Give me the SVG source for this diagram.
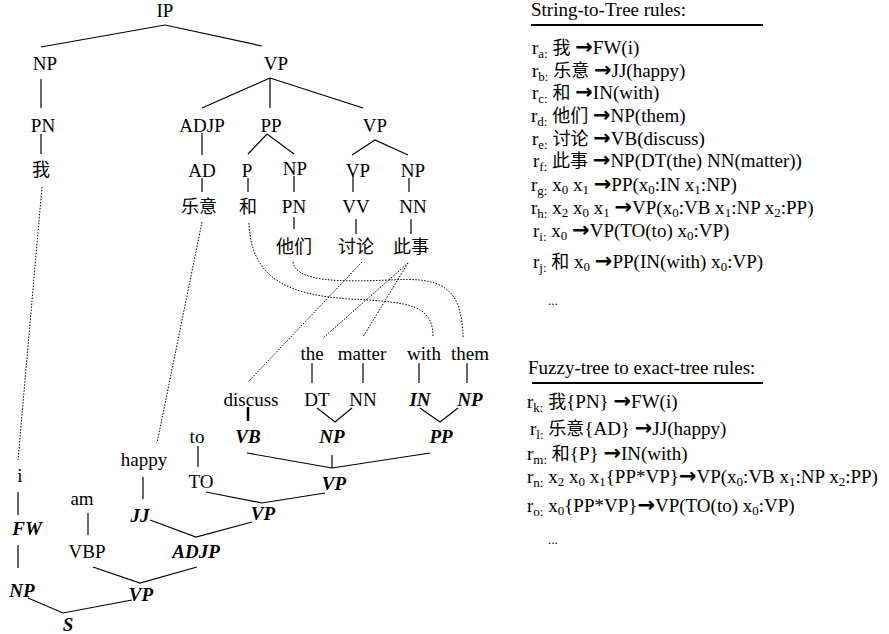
<svg xmlns="http://www.w3.org/2000/svg" width="889" height="634" viewBox="0 0 889 634">
<style>
text{font-family:"Liberation Serif","Noto Sans CJK SC",serif;font-size:19px;fill:#000}
.t{text-anchor:middle}
.b{font-weight:bold;font-style:italic}
.cj{font-family:"Noto Sans CJK SC",sans-serif;font-size:18px}
.s{font-size:13px}
.ar{font-family:"DejaVu Sans",sans-serif;font-weight:bold;font-size:21px}
.ln line,.ln polyline{stroke:#000;stroke-width:1.2;fill:none}
.dt{stroke:#000;stroke-width:1;fill:none;stroke-dasharray:1.5 1.5}
</style>
<rect width="889" height="634" fill="#fff"/>
<g id="connectors">
<g class="ln">
<line x1="165" y1="25" x2="41" y2="47"/>
<line x1="165" y1="25" x2="262" y2="46"/>
<line x1="41" y1="79" x2="41" y2="108"/>
<line x1="41" y1="134" x2="41" y2="154"/>
<line x1="270" y1="78" x2="202" y2="108"/>
<line x1="270" y1="78" x2="270" y2="108"/>
<line x1="270" y1="78" x2="363" y2="108"/>
<line x1="202" y1="133" x2="202" y2="155"/>
<line x1="202" y1="178" x2="202" y2="192"/>
<polyline points="248,154 267,134 294,154"/>
<line x1="248" y1="178" x2="248" y2="192"/>
<line x1="294" y1="176" x2="294" y2="192"/>
<line x1="294" y1="217" x2="294" y2="229"/>
<polyline points="352,155 375,140 408,155"/>
<line x1="353" y1="173" x2="353" y2="192"/>
<line x1="409" y1="178" x2="409" y2="192"/>
<line x1="356" y1="219" x2="356" y2="234"/>
<line x1="411" y1="219" x2="411" y2="234"/>
<line x1="312" y1="363" x2="312" y2="383"/>
<line x1="363" y1="363" x2="363" y2="383"/>
<line x1="419" y1="363" x2="419" y2="383"/>
<line x1="467" y1="363" x2="467" y2="383"/>
<polyline points="317,408 335,422 352,408"/>
<polyline points="420,408 440,422 458,408"/>
<line x1="248" y1="407" x2="248" y2="421" style="stroke-width:2.5"/>
<polyline points="247,453 332,468 430,453"/>
<line x1="332" y1="455" x2="332" y2="468"/>
<line x1="198" y1="446" x2="198" y2="467"/>
<polyline points="206,492 262,503 325,493"/>
<line x1="143" y1="477" x2="143" y2="499"/>
<polyline points="150,520 196,537 252,522"/>
<line x1="88" y1="513" x2="88" y2="535"/>
<polyline points="93,567 140,583 197,567"/>
<line x1="18" y1="492" x2="18" y2="515"/>
<line x1="18" y1="545" x2="18" y2="568"/>
<polyline points="28,598 63,613 132,600"/>
</g>
<line class="dt" x1="42" y1="187" x2="18" y2="460"/>
<line class="dt" x1="202" y1="222" x2="157" y2="443"/>
<line class="dt" x1="362" y1="262" x2="248" y2="382"/>
<line class="dt" x1="408" y1="263" x2="323" y2="338"/>
<line class="dt" x1="408" y1="263" x2="363" y2="337"/>
<path class="dt" d="M249,223 C251,280 290,295 350,299 C410,302 433,305 433,337"/>
<path class="dt" d="M293,262 C296,282 340,282 390,280 C440,277 462,285 463,338"/>
</g>
<g id="n-IP"><text class="t" x="165" y="17">IP</text></g>
<g id="n-NP1"><text class="t" x="45" y="70">NP</text></g>
<g id="n-VP1"><text class="t" x="276" y="70">VP</text></g>
<g id="n-PN1"><text class="t" x="43" y="132">PN</text></g>
<g id="n-wo"><text class="t cj" x="41" y="176">我</text></g>
<g id="n-ADJP1"><text class="t" x="202" y="132">ADJP</text></g>
<g id="n-PP1"><text class="t" x="271" y="132">PP</text></g>
<g id="n-VP2"><text class="t" x="375" y="132">VP</text></g>
<g id="n-AD"><text class="t" x="202" y="177">AD</text></g>
<g id="n-P"><text class="t" x="247" y="177">P</text></g>
<g id="n-NP2"><text class="t" x="295" y="175">NP</text></g>
<g id="n-VP3"><text class="t" x="358" y="177">VP</text></g>
<g id="n-NP3"><text class="t" x="413" y="177">NP</text></g>
<g id="n-leyi"><text class="t cj" x="199" y="213">乐意</text></g>
<g id="n-he"><text class="t cj" x="248" y="213">和</text></g>
<g id="n-PN2"><text class="t" x="294" y="213">PN</text></g>
<g id="n-VV"><text class="t" x="356" y="213">VV</text></g>
<g id="n-NN1"><text class="t" x="413" y="213">NN</text></g>
<g id="n-tamen"><text class="t cj" x="294" y="253">他们</text></g>
<g id="n-taolun"><text class="t cj" x="356" y="253">讨论</text></g>
<g id="n-cishi"><text class="t cj" x="411" y="253">此事</text></g>
<g id="n-the"><text class="t" x="312" y="360">the</text></g>
<g id="n-matter"><text class="t" x="362" y="360">matter</text></g>
<g id="n-with"><text class="t" x="424" y="360">with</text></g>
<g id="n-them"><text class="t" x="470" y="360">them</text></g>
<g id="n-discuss"><text class="t" x="251" y="406">discuss</text></g>
<g id="n-DT"><text class="t" x="317" y="406">DT</text></g>
<g id="n-NN2"><text class="t" x="363" y="406">NN</text></g>
<g id="n-IN"><text class="t b" x="420" y="406">IN</text></g>
<g id="n-NP4"><text class="t b" x="470" y="406">NP</text></g>
<g id="n-to"><text class="t" x="197" y="443">to</text></g>
<g id="n-VB"><text class="t b" x="248" y="443">VB</text></g>
<g id="n-NP5"><text class="t b" x="332" y="443">NP</text></g>
<g id="n-PP2"><text class="t b" x="441" y="443">PP</text></g>
<g id="n-happy"><text class="t" x="144" y="466">happy</text></g>
<g id="n-TO"><text class="t" x="201" y="488">TO</text></g>
<g id="n-VP4"><text class="t b" x="334" y="490">VP</text></g>
<g id="n-i"><text class="t" x="20" y="482">i</text></g>
<g id="n-am"><text class="t" x="82" y="505">am</text></g>
<g id="n-JJ"><text class="t b" x="140" y="522">JJ</text></g>
<g id="n-VP5"><text class="t b" x="263" y="520">VP</text></g>
<g id="n-FW"><text class="t b" x="27" y="535">FW</text></g>
<g id="n-VBP"><text class="t" x="87" y="558">VBP</text></g>
<g id="n-ADJP2"><text class="t b" x="196" y="558">ADJP</text></g>
<g id="n-NP6"><text class="t b" x="22" y="597">NP</text></g>
<g id="n-VP6"><text class="t b" x="141" y="601">VP</text></g>
<g id="n-S"><text class="t b" x="68" y="631">S</text></g>
<g id="rules1">
<text x="531" y="16">String-to-Tree rules:</text>
<line x1="531" y1="25" x2="763" y2="25" stroke="#000" stroke-width="2"/>
<text x="532" y="54">r<tspan class="s" dy="4">a:</tspan><tspan dy="-4"> </tspan><tspan class="cj">我</tspan> <tspan class="ar">→</tspan>FW(i)</text>
<text x="532" y="77">r<tspan class="s" dy="4">b:</tspan><tspan dy="-4"> </tspan><tspan class="cj">乐意</tspan> <tspan class="ar">→</tspan>JJ(happy)</text>
<text x="532" y="99">r<tspan class="s" dy="4">c:</tspan><tspan dy="-4"> </tspan><tspan class="cj">和</tspan> <tspan class="ar">→</tspan>IN(with)</text>
<text x="531" y="122">r<tspan class="s" dy="4">d:</tspan><tspan dy="-4"> </tspan><tspan class="cj">他们</tspan> <tspan class="ar">→</tspan>NP(them)</text>
<text x="532" y="145">r<tspan class="s" dy="4">e:</tspan><tspan dy="-4"> </tspan><tspan class="cj">讨论</tspan> <tspan class="ar">→</tspan>VB(discuss)</text>
<text x="533" y="167">r<tspan class="s" dy="4">f:</tspan><tspan dy="-4"> </tspan><tspan class="cj">此事</tspan> <tspan class="ar">→</tspan>NP(DT(the) NN(matter))</text>
<text x="531" y="191">r<tspan class="s" dy="4">g:</tspan><tspan dy="-4"> x</tspan><tspan class="s" dy="3">0</tspan><tspan dy="-3"> x</tspan><tspan class="s" dy="3">1</tspan><tspan dy="-3"> </tspan><tspan class="ar">→</tspan>PP(x<tspan class="s" dy="3">0</tspan><tspan dy="-3">:IN x</tspan><tspan class="s" dy="3">1</tspan><tspan dy="-3">:NP)</tspan></text>
<text x="531" y="214">r<tspan class="s" dy="4">h:</tspan><tspan dy="-4"> x</tspan><tspan class="s" dy="3">2</tspan><tspan dy="-3"> x</tspan><tspan class="s" dy="3">0</tspan><tspan dy="-3"> x</tspan><tspan class="s" dy="3">1</tspan><tspan dy="-3"> </tspan><tspan class="ar">→</tspan>VP(x<tspan class="s" dy="3">0</tspan><tspan dy="-3">:VB x</tspan><tspan class="s" dy="3">1</tspan><tspan dy="-3">:NP x</tspan><tspan class="s" dy="3">2</tspan><tspan dy="-3">:PP)</tspan></text>
<text x="533" y="237">r<tspan class="s" dy="4">i:</tspan><tspan dy="-4"> x</tspan><tspan class="s" dy="3">0</tspan><tspan dy="-3"> </tspan><tspan class="ar">→</tspan>VP(TO(to) x<tspan class="s" dy="3">0</tspan><tspan dy="-3">:VP)</tspan></text>
<text x="533" y="268">r<tspan class="s" dy="4">j:</tspan><tspan dy="-4"> </tspan><tspan class="cj">和</tspan> x<tspan class="s" dy="3">0</tspan><tspan dy="-3"> </tspan><tspan class="ar">→</tspan>PP(IN(with) x<tspan class="s" dy="3">0</tspan><tspan dy="-3">:VP)</tspan></text>
<text x="548" y="305" class="s">...</text>
</g>
<g id="rules2">
<text x="528" y="374">Fuzzy-tree to exact-tree rules:</text>
<line x1="532" y1="383" x2="763" y2="383" stroke="#000" stroke-width="2"/>
<text x="527" y="408">r<tspan class="s" dy="4">k:</tspan><tspan dy="-4"> </tspan><tspan class="cj">我</tspan>{PN} <tspan class="ar">→</tspan>FW(i)</text>
<text x="530" y="435">r<tspan class="s" dy="4">l:</tspan><tspan dy="-4"> </tspan><tspan class="cj">乐意</tspan>{AD} <tspan class="ar">→</tspan>JJ(happy)</text>
<text x="527" y="460">r<tspan class="s" dy="4">m:</tspan><tspan dy="-4"> </tspan><tspan class="cj">和</tspan>{P} <tspan class="ar">→</tspan>IN(with)</text>
<text x="527" y="483">r<tspan class="s" dy="4">n:</tspan><tspan dy="-4"> x</tspan><tspan class="s" dy="3">2</tspan><tspan dy="-3"> x</tspan><tspan class="s" dy="3">0</tspan><tspan dy="-3"> x</tspan><tspan class="s" dy="3">1</tspan><tspan dy="-3">{PP*VP}</tspan><tspan class="ar">→</tspan>VP(x<tspan class="s" dy="3">0</tspan><tspan dy="-3">:VB x</tspan><tspan class="s" dy="3">1</tspan><tspan dy="-3">:NP x</tspan><tspan class="s" dy="3">2</tspan><tspan dy="-3">:PP)</tspan></text>
<text x="527" y="512">r<tspan class="s" dy="4">o:</tspan><tspan dy="-4"> x</tspan><tspan class="s" dy="3">0</tspan><tspan dy="-3">{PP*VP}</tspan><tspan class="ar">→</tspan>VP(TO(to) x<tspan class="s" dy="3">0</tspan><tspan dy="-3">:VP)</tspan></text>
<text x="548" y="544" class="s">...</text>
</g>
</svg>
